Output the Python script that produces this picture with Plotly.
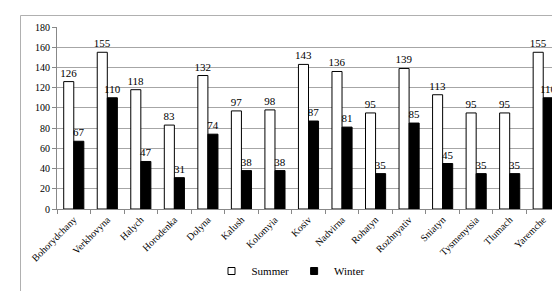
import plotly.graph_objects as go

districts = ["Bohorydchany", "Verkhovyna", "Halych", "Horodenka", "Dolyna", "Kalush",
             "Kolomyia", "Kosiv", "Nadvirna", "Rohatyn", "Rozhnyativ", "Sniatyn",
             "Tysmenytsia", "Tlumach", "Yaremche"]
summer = [126, 155, 118, 83, 132, 97, 98, 143, 136, 95, 139, 113, 95, 95, 155]
winter = [67, 110, 47, 31, 74, 38, 38, 87, 81, 35, 85, 45, 35, 35, 110]
y_ticks = [0, 20, 40, 60, 80, 100, 120, 140, 160, 180]

FONT = "Liberation Serif"
W, H = 560, 291
L, R, T, B = 49, 8, 19, 90
pw, ph = W - L - R, H - T - B

def px_x(p):
    return (p - L) / pw

def px_y(p):
    return (H - B - p) / ph

fig = go.Figure()
fig.add_trace(go.Bar(
    name="Summer", x=districts, y=summer, showlegend=False,
    marker=dict(color="white", line=dict(color="black", width=1)),
    text=[str(v) for v in summer], textposition="outside", constraintext="none",
    textfont=dict(family=FONT, size=11, color="black"), cliponaxis=False,
))
fig.add_trace(go.Bar(
    name="Winter", x=districts, y=winter, showlegend=False,
    marker=dict(color="black", line=dict(color="black", width=1)),
    text=[str(v) for v in winter], textposition="outside", constraintext="none",
    textfont=dict(family=FONT, size=11, color="black"), cliponaxis=False,
))
# legend entries
fig.add_trace(go.Scatter(
    name="Summer", x=[None], y=[None], mode="markers",
    marker=dict(symbol="square", size=7, color="white", line=dict(color="black", width=1)),
))
fig.add_trace(go.Scatter(
    name="Winter", x=[None], y=[None], mode="markers",
    marker=dict(symbol="square", size=7, color="black", line=dict(color="black", width=1)),
))

fig.update_layout(
    width=W, height=H,
    margin=dict(l=L, r=R, t=T, b=B),
    paper_bgcolor="white", plot_bgcolor="white",
    barmode="group", bargap=0.4, bargroupgap=0,
    font=dict(family=FONT, size=10, color="black"),
    showlegend=True,
    legend=dict(orientation="h", x=px_x(283), xanchor="center", y=px_y(263), yanchor="middle",
                font=dict(family=FONT, size=11, color="black"),
                itemwidth=30, traceorder="normal", bgcolor="rgba(0,0,0,0)",
                tracegroupgap=0),
    xaxis=dict(tickangle=-45, tickson="boundaries", ticks="outside", ticklen=4,
               tickcolor="#888", showline=True, linecolor="#888", linewidth=1,
               showgrid=False, tickfont=dict(family=FONT, size=10)),
    yaxis=dict(range=[0, 180], tickvals=y_ticks, ticks="outside", ticklen=4,
               tickcolor="#888", showline=True, linecolor="#888", linewidth=1,
               showgrid=True, gridcolor="#a6a6a6", gridwidth=1,
               tickfont=dict(family=FONT, size=10), zeroline=False),
    shapes=[
        dict(type="line", xref="paper", yref="paper", x0=px_x(12.5), x1=px_x(12.5),
             y0=px_y(292), y1=px_y(7.5), line=dict(color="#b0b0b0", width=1)),
        dict(type="line", xref="paper", yref="paper", x0=px_x(12.5), x1=px_x(562),
             y0=px_y(7.5), y1=px_y(7.5), line=dict(color="#b0b0b0", width=1)),
    ],
)

fig.write_html("out.html")
